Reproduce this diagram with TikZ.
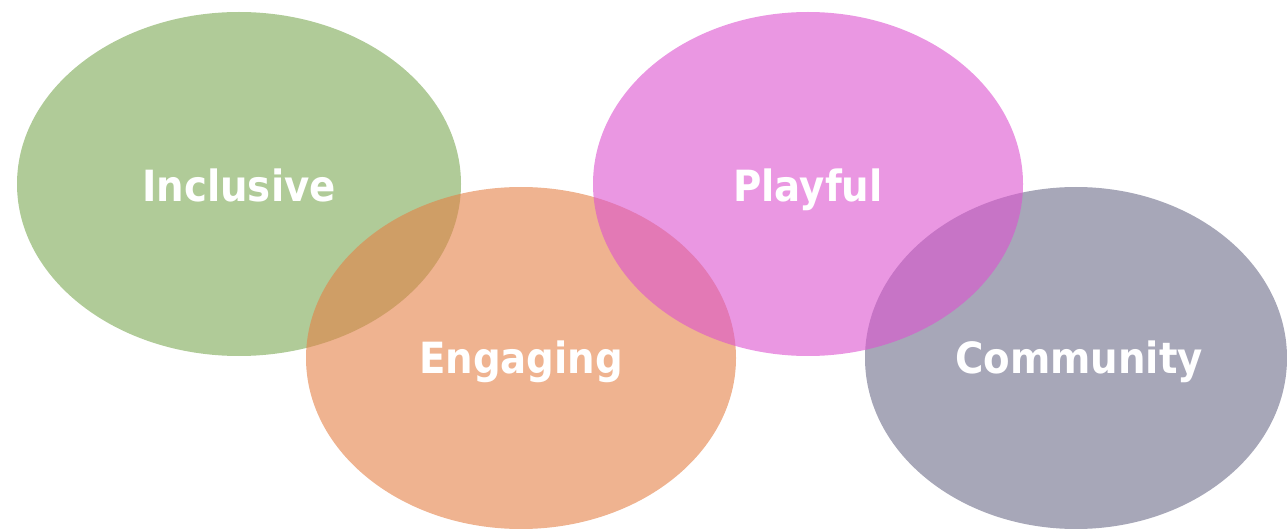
\documentclass[tikz,border=0pt]{standalone}
\usepackage{fontspec}
\setmainfont{DejaVu Sans Condensed}
\definecolor{cgreen}{RGB}{123,168,83}
\definecolor{corange}{RGB}{228,128,70}
\definecolor{cpink}{RGB}{220,82,207}
\definecolor{cgray}{RGB}{108,108,137}
\tikzset{
  blob/.style={fill opacity=0.6},
  lbl/.style={text=white, anchor=base, inner sep=0pt, font=\bfseries\fontsize{43}{50}\selectfont}
}
\begin{document}
\begin{tikzpicture}[x=1pt,y=-1pt]
\useasboundingbox (0,0) rectangle (1287,529);
\fill[cgreen, blob] (239,184) ellipse [x radius=222, y radius=172];
\fill[corange, blob] (521,358) ellipse [x radius=215, y radius=171];
\fill[cgray, blob] (1076,358) ellipse [x radius=211, y radius=171];
\fill[cpink, blob] (808,184) ellipse [x radius=215, y radius=172];
\node[lbl] (inclusive) at (239,202) {Inclusive};
\node[lbl] (engaging) at (521,373) {Engaging};
\node[lbl] (playful) at (808,202) {Playful};
\node[lbl] (community) at (1079,373) {Community};
\end{tikzpicture}
\end{document}
